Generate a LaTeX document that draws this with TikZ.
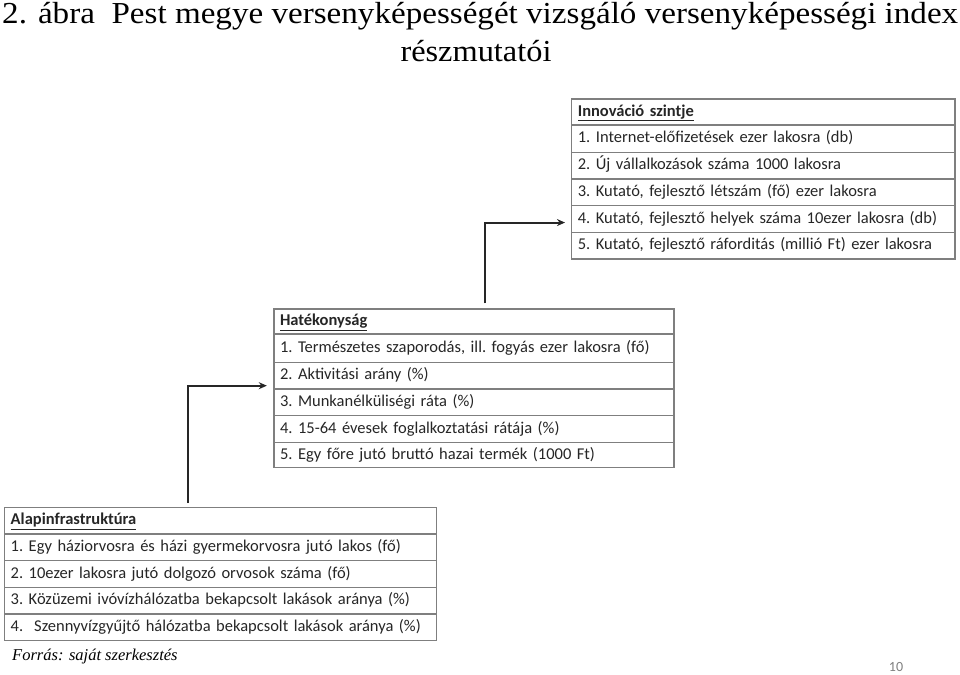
\documentclass[tikz,border=0pt]{standalone}
\usepackage{fontspec}
\usepackage{graphicx}
\setmainfont{Liberation Serif}
\newfontfamily\calfont{Carlito}
\usetikzlibrary{arrows.meta}
\definecolor{bord}{HTML}{7F7F7F}
\definecolor{txt}{HTML}{262626}
\newcommand\cellfont{\calfont\fontsize{16.5}{18}\selectfont\frenchspacing\spaceskip=0.19em plus 0.05em minus 0.02em\relax}
\tikzset{
  cell/.style={draw=bord, line width=1.4pt, anchor=north west, inner xsep=6pt, inner ysep=0pt,
    text=txt, font=\cellfont, align=left, text height=12pt, text depth=3.5pt},
  arr/.style={line width=2pt, draw=black!85, -{Stealth[length=8pt,width=7pt]}},
}
\begin{document}
\begin{tikzpicture}[x=1pt,y=-1pt]
\useasboundingbox (0,0) rectangle (960,674);
% title
\node[anchor=base west, inner sep=0pt] (t1) at (2,24) {\resizebox{956pt}{\height}{\fontsize{30.5}{34}\selectfont 2. ábra\ \ Pest megye versenyképességét vizsgáló versenyképességi index}};
\node[anchor=base, inner sep=0pt] (t2) at (476,62) {\resizebox{151pt}{\height}{\fontsize{30.5}{34}\selectfont részmutatói}};

% Innovation table
\foreach \n/\y/\h/\t in {
  i0/98.3/26/{\textbf{\underline{Innováció szintje}}},
  i1/124.3/27.4/{1. Internet-előfizetések ezer lakosra (db)},
  i2/151.7/26.6/{2. Új vállalkozások száma 1000 lakosra},
  i3/178.3/26.7/{3. Kutató, fejlesztő létszám (fő) ezer lakosra},
  i4/205/26.7/{4. Kutató, fejlesztő helyek száma 10ezer lakosra (db)},
  i5/231.7/26.6/{5. Kutató, fejlesztő ráforditás (millió Ft) ezer lakosra}}
  \node[cell, minimum width=383.3pt, text width=371pt, minimum height=\h pt] (\n) at (571,\y) {\t};

% Hatékonyság table
\foreach \n/\y/\h/\t in {
  h0/308.3/25/{\textbf{\underline{Hatékonyság}}},
  h1/333.3/28.4/{1. Természetes szaporodás, ill. fogyás ezer lakosra (fő)},
  h2/361.7/26.6/{2. Aktivitási arány (\%)},
  h3/388.3/26.7/{3. Munkanélküliségi ráta (\%)},
  h4/415/26.7/{4. 15-64 évesek foglalkoztatási rátája (\%)},
  h5/441.7/25/{5. Egy főre jutó bruttó hazai termék (1000 Ft)}}
  \node[cell, minimum width=400pt, text width=388pt, minimum height=\h pt] (\n) at (273.3,\y) {\t};

% Alapinfrastruktura table
\foreach \n/\y/\h/\t in {
  a0/506.7/26.6/{\textbf{\underline{Alapinfrastruktúra}}},
  a1/533.3/26.7/{1. Egy háziorvosra és házi gyermekorvosra jutó lakos (fő)},
  a2/560/26.7/{2. 10ezer lakosra jutó dolgozó orvosok száma (fő)},
  a3/586.7/26.6/{3. Közüzemi ivóvízhálózatba bekapcsolt lakások aránya (\%)},
  a4/613.3/26.7/{4.\ \ Szennyvízgyűjtő hálózatba bekapcsolt lakások aránya (\%)}}
  \node[cell, minimum width=432pt, text width=420pt, minimum height=\h pt] (\n) at (4,\y) {\t};

% connectors
\coordinate (c1) at (485,0);
\coordinate (c2) at (188.3,0);
\draw[arr, shorten <=5pt, shorten >=6pt] (h0.north -| c1) |- ([yshift=-3.5pt]i4.west);
\draw[arr, shorten <=3.5pt, shorten >=6.5pt] (a0.north -| c2) |- ([yshift=-10pt]h2.west);

% source and page
\node[anchor=west, inner sep=0pt] (src) at (12,657) {\fontsize{16.5}{18}\selectfont\itshape Forrás: saját szerkesztés};
\node[anchor=center, inner sep=0pt, text=bord] (pg) at (896,667) {\calfont\fontsize{14}{16}\selectfont 10};
\end{tikzpicture}
\end{document}
